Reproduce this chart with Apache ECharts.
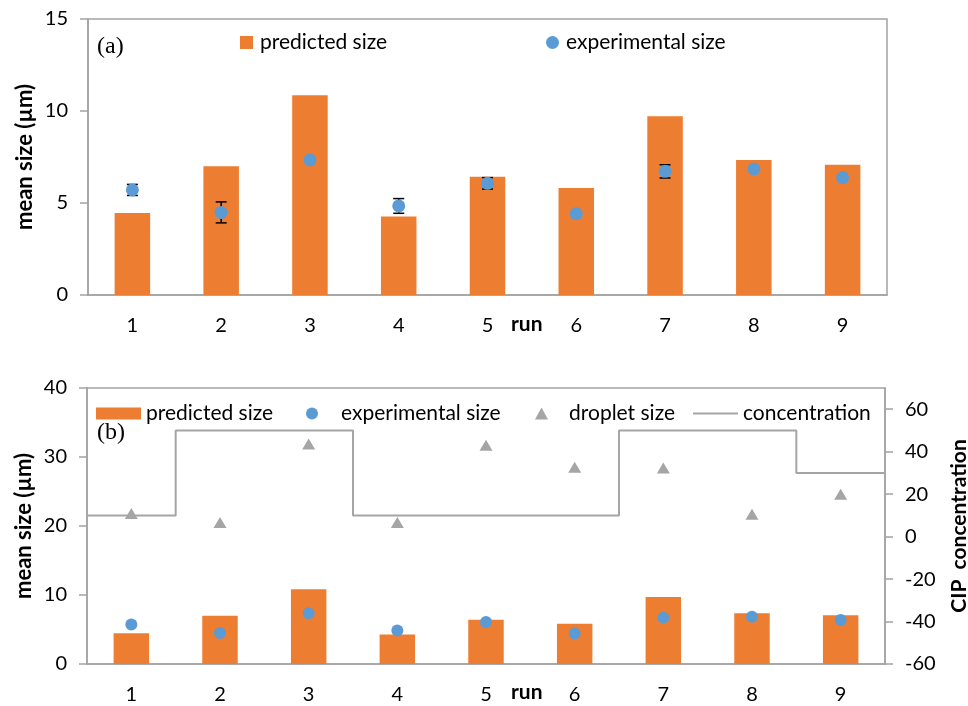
<!DOCTYPE html>
<html>
<head>
<meta charset="utf-8">
<script src="https://cdn.jsdelivr.net/npm/echarts@6/dist/echarts.min.js"></script>
<style>html,body{margin:0;padding:0;background:#fff}#c{width:968px;height:706px}</style>
</head>
<body>
<div id="c"></div>
<script>
var runs = ['1','2','3','4','5','6','7','8','9'];
var predicted = [4.45, 7.0, 10.85, 4.26, 6.43, 5.82, 9.71, 7.34, 7.08];
var experimental = [5.71, 4.49, 7.34, 4.84, 6.07, 4.42, 6.72, 6.85, 6.38];
var expError = [0.3, 0.57, 0, 0.4, 0.31, 0, 0.36, 0, 0];
var droplet = [21.8, 20.5, 31.9, 20.5, 31.7, 28.5, 28.4, 21.7, 24.6];
var concentration = [10, 50, 50, 10, 10, 10, 50, 50, 30];
var leftTicksA = [0, 5, 10, 15];
var leftTicksB = [0, 10, 20, 30, 40];
var rightTicksB = [-60, -40, -20, 0, 20, 40, 60];

var FONT = 'Lato';
var GRAY = '#A3A3A3';
var ORANGE = '#ED7D31';
var BLUE = '#5B9BD5';
var TRI = '#A5A5A5';

var errData = [];
experimental.forEach(function (v, i) {
  if (expError[i] > 0) errData.push([i, v - expError[i], v + expError[i]]);
});
var concLine = [];
concentration.forEach(function (c, i) {
  concLine.push([i + 0.5, c], [i + 1.5, c]);
});

function catAxis(g) {
  return {
    type: 'category', gridIndex: g, data: runs,
    axisLine: {lineStyle: {color: GRAY, width: 1.5}},
    axisTick: {length: 8, lineStyle: {color: GRAY, width: 1.5}},
    axisLabel: {fontFamily: FONT, fontSize: 20, color: '#000', margin: 21},
    splitLine: {show: false}
  };
}
function valAxis(g, min, max, interval, ticks, pos) {
  return {
    type: 'value', gridIndex: g, min: min, max: max, interval: interval, position: pos,
    axisLine: {show: true, lineStyle: {color: GRAY, width: 1.5}},
    axisTick: {show: true, length: 8, lineStyle: {color: GRAY, width: 1.5}, customValues: ticks},
    axisLabel: {fontFamily: FONT, fontSize: 20, color: '#000', margin: 20, customValues: ticks},
    splitLine: {show: false},
    nameMoveOverlap: false
  };
}

var yA = valAxis(0, 0, 15, 5, leftTicksA, 'left');
yA.name = 'mean size (µm)'; yA.nameLocation = 'middle'; yA.nameGap = 52;
yA.nameTextStyle = {fontFamily: FONT, fontSize: 22, fontWeight: 'bold', color: '#000'};
var yB = valAxis(1, 0, 40, 10, leftTicksB, 'left');
yB.name = 'mean size (µm)'; yB.nameLocation = 'middle'; yB.nameGap = 52;
yB.nameTextStyle = {fontFamily: FONT, fontSize: 22, fontWeight: 'bold', color: '#000'};
var yC = valAxis(1, -60, 70, 20, rightTicksB, 'right');
yC.name = 'CIP  concentration'; yC.nameLocation = 'middle'; yC.nameGap = 64;
yC.nameTextStyle = {fontFamily: FONT, fontSize: 21, fontWeight: 'bold', color: '#000'};

var legTxt = function (pl) { return {fontFamily: FONT, fontSize: 21, color: '#000', padding: [0, 0, 0, pl]}; };

var option = {
  animation: false,
  backgroundColor: '#fff',
  grid: [
    {left: 88, right: 81, top: 19, height: 276, containLabel: false, outerBoundsMode: 'none', show: true, borderColor: GRAY, borderWidth: 1.5, backgroundColor: 'transparent'},
    {left: 87, right: 83, top: 388, height: 276, containLabel: false, outerBoundsMode: 'none', show: true, borderColor: GRAY, borderWidth: 1.5, backgroundColor: 'transparent'}
  ],
  legend: [
    {data: [{name: 'predicted size ', icon: 'rect'}], left: 240, top: 32, padding: 0, itemWidth: 13, itemHeight: 13, textStyle: legTxt(2), selectedMode: false},
    {data: [{name: 'experimental size ', icon: 'circle'}], left: 546, top: 32, padding: 0, itemWidth: 13, itemHeight: 13, textStyle: legTxt(2), selectedMode: false},
    {data: [{name: 'predicted size', icon: 'rect'}], left: 96, top: 403, padding: 0, itemWidth: 45, itemHeight: 12, textStyle: legTxt(0), selectedMode: false},
    {data: [{name: 'experimental size', icon: 'circle'}], left: 306, top: 403, padding: 0, itemWidth: 12, itemHeight: 12, textStyle: legTxt(18), selectedMode: false},
    {data: [{name: 'droplet size', icon: 'triangle'}], left: 535, top: 403, padding: 0, itemWidth: 13, itemHeight: 12, textStyle: legTxt(16), selectedMode: false},
    {data: [{name: 'concentration', itemStyle: {opacity: 0}}], left: 692, top: 403, padding: 0, itemWidth: 45, itemHeight: 12, textStyle: legTxt(0), selectedMode: false}
  ],
  xAxis: [
    catAxis(0), catAxis(1),
    {type: 'value', gridIndex: 1, min: 0.5, max: 9.5, show: false}
  ],
  yAxis: [yA, yB, yC],
  series: [
    {name: 'predicted size ', type: 'bar', xAxisIndex: 0, yAxisIndex: 0, data: predicted, barWidth: '40%', itemStyle: {color: ORANGE}, z: 2},
    {name: 'error', type: 'custom', xAxisIndex: 0, yAxisIndex: 0, data: errData, z: 3,
      encode: {x: 0, y: [1, 2]},
      renderItem: function (params, api) {
        var x = api.value(0);
        var lo = api.coord([x, api.value(1)]);
        var hi = api.coord([x, api.value(2)]);
        var hw = 5.5;
        var st = {stroke: '#000', lineWidth: 1.5};
        return {type: 'group', children: [
          {type: 'line', shape: {x1: lo[0], y1: lo[1], x2: hi[0], y2: hi[1]}, style: st},
          {type: 'line', shape: {x1: lo[0] - hw, y1: lo[1], x2: lo[0] + hw, y2: lo[1]}, style: st},
          {type: 'line', shape: {x1: hi[0] - hw, y1: hi[1], x2: hi[0] + hw, y2: hi[1]}, style: st}
        ]};
      }
    },
    {name: 'experimental size ', type: 'scatter', xAxisIndex: 0, yAxisIndex: 0, data: experimental, symbol: 'circle', symbolSize: 13, itemStyle: {color: BLUE, opacity: 1}, z: 4},
    {name: 'predicted size', type: 'bar', xAxisIndex: 1, yAxisIndex: 1, data: predicted, barWidth: '40%', itemStyle: {color: ORANGE}, z: 2},
    {name: 'experimental size', type: 'scatter', xAxisIndex: 1, yAxisIndex: 1, data: experimental, symbol: 'circle', symbolSize: 12, itemStyle: {color: BLUE, opacity: 1}, z: 4},
    {name: 'droplet size', type: 'scatter', xAxisIndex: 1, yAxisIndex: 1, data: droplet, symbol: 'triangle', symbolSize: [13, 11], itemStyle: {color: TRI, opacity: 1}, z: 4},
    {name: 'concentration', type: 'line', xAxisIndex: 2, yAxisIndex: 2, data: concLine, symbol: 'none', showSymbol: false, lineStyle: {color: TRI, width: 2}, itemStyle: {color: TRI}, z: 3}
  ],
  graphic: [
    {type: 'text', left: 97, top: 35, style: {text: '(a)', fontFamily: 'Liberation Serif', fontSize: 24, fill: '#000'}},
    {type: 'text', left: 97, top: 421, style: {text: '(b)', fontFamily: 'Liberation Serif', fontSize: 24, fill: '#000'}},
    {type: 'text', left: 511, top: 314, style: {text: 'run', fontFamily: FONT, fontSize: 21, fontWeight: 'bold', fill: '#000'}},
    {type: 'text', left: 511, top: 682, style: {text: 'run', fontFamily: FONT, fontSize: 21, fontWeight: 'bold', fill: '#000'}}
  ]
};
var chart = echarts.init(document.getElementById('c'), null, {renderer: 'canvas'});
chart.setOption(option);
</script>
</body>
</html>
